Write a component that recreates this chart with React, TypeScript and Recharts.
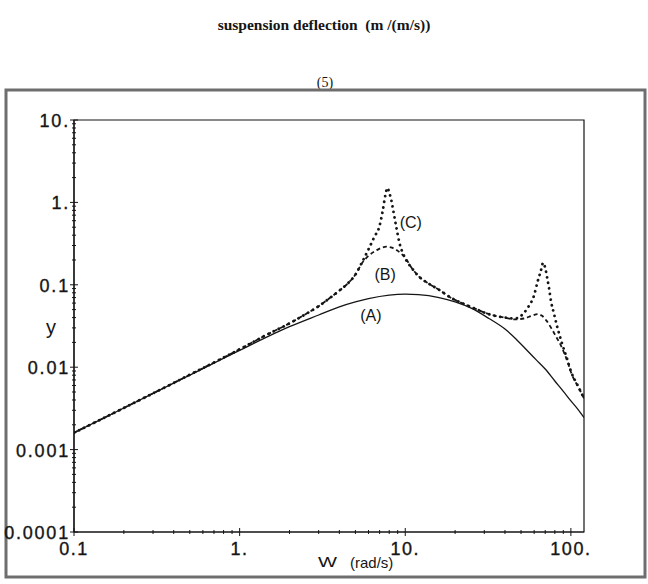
import { LineChart, Line, XAxis, YAxis, ReferenceArea, ReferenceDot } from 'recharts';

const SANS = '"Liberation Sans", Arial, Helvetica, sans-serif';
const SERIF = '"Liberation Serif", "Times New Roman", serif';
const INK = '#151515';

// (A) passive response
const wA = [0.1, 0.2, 0.5, 1, 2, 3, 4, 5, 6, 8, 10, 12, 16, 20, 25, 32, 40, 46.6, 55, 62, 70, 80, 90, 100, 110, 120];
const yA = [
    0.0016, 0.0032, 0.008, 0.016, 0.031, 0.043, 0.054, 0.062, 0.068, 0.075, 0.077, 0.076, 0.07,
    0.062, 0.052, 0.039, 0.029, 0.022, 0.0156, 0.0122, 0.0095, 0.0068, 0.0051, 0.0039, 0.0031, 0.00245,
];

// (B) response
const wB = [
    0.1, 0.2, 0.5, 1, 1.5, 2, 2.5, 3, 3.5, 4, 4.5, 5, 5.5, 6, 6.7, 7.2, 7.7, 8.3, 8.9, 9.6, 10, 11, 12,
    14, 16, 19, 22, 26, 32, 40, 46, 52, 58, 63, 67, 71, 76, 80, 88, 95, 101, 110, 120,
];
const yB = [
    0.0016, 0.0032, 0.0081, 0.0165, 0.0255, 0.034, 0.044, 0.055, 0.069, 0.085, 0.104, 0.133, 0.185,
    0.225, 0.262, 0.282, 0.29, 0.282, 0.262, 0.232, 0.212, 0.158, 0.128, 0.102, 0.087, 0.069, 0.06,
    0.052, 0.044, 0.04, 0.038, 0.039, 0.042, 0.044, 0.042, 0.037, 0.03, 0.025, 0.0175, 0.012, 0.0083,
    0.0059, 0.0042,
];

// (C) response
const wC = [
    0.1, 0.2, 0.5, 1, 1.5, 2, 2.5, 3, 3.5, 4, 4.5, 5, 5.5, 6, 6.5, 7, 7.3, 7.6, 7.8, 8, 8.25, 8.5, 8.8,
    9.2, 10, 11, 12, 14, 16, 19, 22, 26, 32, 40, 46, 50, 55, 60, 63, 66, 68, 70, 72, 74, 76, 79, 82,
    88, 95, 101, 110, 120,
];
const yC = [
    0.0016, 0.0032, 0.0081, 0.0165, 0.0255, 0.034, 0.044, 0.055, 0.069, 0.085, 0.104, 0.133, 0.19,
    0.27, 0.38, 0.52, 0.78, 1.25, 1.5, 1.32, 1.05, 0.76, 0.52, 0.33, 0.21, 0.158, 0.128, 0.102, 0.087,
    0.069, 0.06, 0.052, 0.044, 0.04, 0.039, 0.042, 0.053, 0.075, 0.11, 0.15, 0.185, 0.16, 0.12, 0.088,
    0.062, 0.045, 0.033, 0.02, 0.0125, 0.0085, 0.006, 0.0042,
];

const xMajor = [0.1, 1, 10, 100];
const xMajorLabels = ['0.1', '1.', '10.', '100.'];
const yMajor = [0.0001, 0.001, 0.01, 0.1, 1, 10];
const yMajorLabels = ['0.0001', '0.001', '0.01', '0.1', '1.', '10.'];

const steps = [1, 2, 3, 4, 5, 6, 7, 8, 9];
const withMinors = (majors: number[]) =>
    majors.flatMap((m, i) => (i < majors.length - 1 ? steps.map((k) => m * k) : [m]));

const toRows = (w: number[], y: number[]) => w.map((v, i) => ({ w: v, y: y[i] }));
const dataA = toRows(wA, yA);
const dataB = toRows(wB, yB);
const dataC = toRows(wC, yC);

// tick labels are drawn a touch heavier, like the old plotter output
const labelStyle = {
    fontFamily: SANS,
    fontSize: 18,
    fill: INK,
    stroke: INK,
    strokeWidth: 0.35,
};

const XTick = (props: any) => {
    const { x, y, payload } = props;
    const i = xMajor.indexOf(payload.value);
    const len = i >= 0 ? 4 : 2;
    return (
        <g>
            <line x1={x} x2={x} y1={y - len} y2={y + len} stroke={INK} strokeWidth={1} />
            {i >= 0 && (
                <text x={x} y={y + 23} textAnchor="middle" letterSpacing={1.5} {...labelStyle}>
                    {xMajorLabels[i]}
                </text>
            )}
        </g>
    );
};

const YTick = (props: any) => {
    const { x, y, payload } = props;
    const i = yMajor.indexOf(payload.value);
    const len = i >= 0 ? 4 : 2;
    return (
        <g>
            <line x1={x - len} x2={x + len} y1={y} y2={y} stroke={INK} strokeWidth={1} />
            {i >= 0 && (
                <text x={x - 4} y={y + 7} textAnchor="end" letterSpacing={1.8} {...labelStyle}>
                    {yMajorLabels[i]}
                </text>
            )}
        </g>
    );
};

const curveLabel = (text: string) => ({
    value: text,
    position: 'center' as const,
    fontFamily: SANS,
    fontSize: 16,
    fill: INK,
});

const App = () => {
    return (
        <div
            style={{
                position: 'absolute',
                left: 0,
                top: 0,
                width: 648,
                height: 584,
                background: '#fff',
                overflow: 'hidden',
            }}
        >
            <svg width={648} height={584} style={{ position: 'absolute', left: 0, top: 0 }}>
                <text
                    x={324}
                    y={30}
                    textAnchor="middle"
                    fontFamily={SERIF}
                    fontWeight="bold"
                    fontSize={15.5}
                    fill={INK}
                >
                    suspension deflection {'\u00a0'}(m /(m/s))
                </text>
                <text x={325} y={87} textAnchor="middle" fontFamily={SERIF} fontSize={14} fill={INK}>
                    (5)
                </text>
                <rect x={6} y={90} width={639} height={487} fill="none" stroke="#6e6e6e" strokeWidth={3} />
                <text x={46} y={334} fontFamily={SANS} fontSize={20} fill={INK}>
                    y
                </text>
                <text
                    x={318}
                    y={567}
                    fontFamily={SANS}
                    fontSize={15}
                    textLength={19}
                    lengthAdjust="spacingAndGlyphs"
                    fill={INK}
                >
                    W
                </text>
                <text x={350} y={568} fontFamily={SANS} fontSize={15} fill={INK}>
                    (rad/s)
                </text>
            </svg>
            <LineChart
                width={648}
                height={584}
                margin={{ top: 120, right: 64, bottom: 0, left: 0 }}
                style={{ position: 'absolute', left: 0, top: 0 }}
            >
                <XAxis
                    dataKey="w"
                    type="number"
                    scale="log"
                    domain={[0.1, 120]}
                    allowDataOverflow
                    ticks={withMinors(xMajor)}
                    interval={0}
                    tick={<XTick />}
                    tickLine={false}
                    tickSize={0}
                    tickMargin={0}
                    height={52}
                    axisLine={{ stroke: INK, strokeWidth: 1.2 }}
                />
                <YAxis
                    dataKey="y"
                    type="number"
                    scale="log"
                    domain={[0.0001, 10]}
                    allowDataOverflow
                    ticks={withMinors(yMajor)}
                    interval={0}
                    tick={<YTick />}
                    tickLine={false}
                    tickSize={0}
                    tickMargin={0}
                    width={74}
                    axisLine={{ stroke: INK, strokeWidth: 1.2 }}
                />
                <ReferenceArea
                    x1={0.1}
                    x2={120}
                    y1={0.0001}
                    y2={10}
                    fill="none"
                    stroke={INK}
                    strokeWidth={1.2}
                />
                <Line
                    data={dataA}
                    dataKey="y"
                    type="monotone"
                    stroke={INK}
                    strokeWidth={1.3}
                    dot={false}
                    isAnimationActive={false}
                />
                <Line
                    data={dataB}
                    dataKey="y"
                    type="monotone"
                    stroke={INK}
                    strokeWidth={1.8}
                    strokeDasharray="4 3"
                    dot={false}
                    isAnimationActive={false}
                />
                <Line
                    data={dataC}
                    dataKey="y"
                    type="monotone"
                    stroke={INK}
                    strokeWidth={2.8}
                    strokeDasharray="0.1 5.5"
                    strokeLinecap="round"
                    dot={false}
                    isAnimationActive={false}
                />
                <ReferenceDot x={6.2} y={0.043} r={0} fill="none" stroke="none" label={curveLabel('(A)')} />
                <ReferenceDot x={7.55} y={0.135} r={0} fill="none" stroke="none" label={curveLabel('(B)')} />
                <ReferenceDot x={10.8} y={0.58} r={0} fill="none" stroke="none" label={curveLabel('(C)')} />
            </LineChart>
        </div>
    );
};

export default App;
